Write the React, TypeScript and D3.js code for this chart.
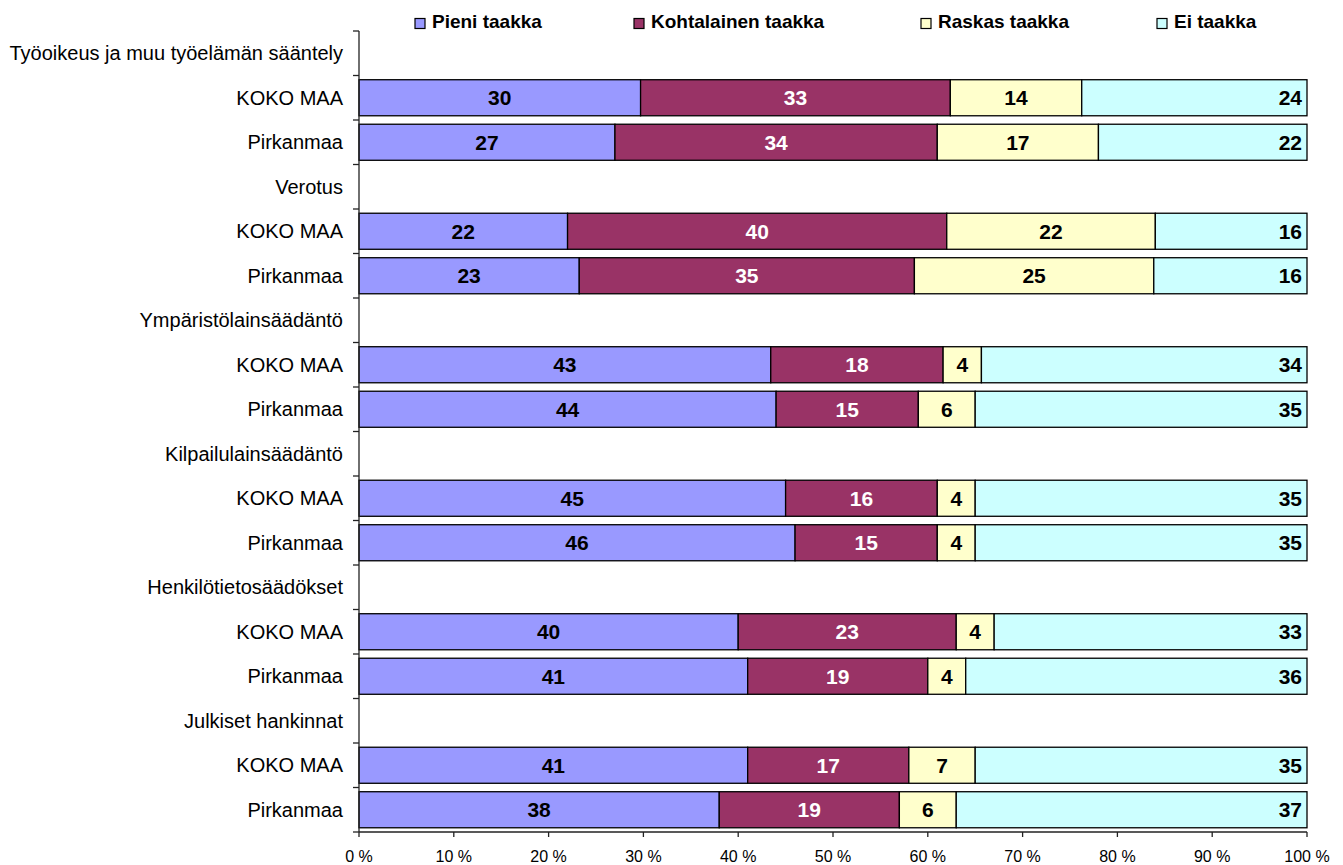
import React from "react";
import * as d3 from "d3";

const groups = [
  "Työoikeus ja muu työelämän sääntely",
  "Verotus",
  "Ympäristölainsäädäntö",
  "Kilpailulainsäädäntö",
  "Henkilötietosäädökset",
  "Julkiset hankinnat",
];
const regions = ["KOKO MAA", "Pirkanmaa"];
const seriesNames = ["Pieni taakka", "Kohtalainen taakka", "Raskas taakka", "Ei taakka"];
const seriesColors = ["#9999FF", "#993366", "#FFFFCC", "#CCFFFF"];
const labelColors = ["#000", "#fff", "#000", "#000"];

// order: group0 KOKO, group0 Pirk, group1 KOKO, ...
const pieni = [30, 27, 22, 23, 43, 44, 45, 46, 40, 41, 41, 38];
const kohtalainen = [33, 34, 40, 35, 18, 15, 16, 15, 23, 19, 17, 19];
const raskas = [14, 17, 22, 25, 4, 6, 4, 4, 4, 4, 7, 6];
const eiTaakka = [24, 22, 16, 16, 34, 35, 35, 35, 33, 36, 35, 37];
const xTicks = [0, 0.1, 0.2, 0.3, 0.4, 0.5, 0.6, 0.7, 0.8, 0.9, 1];

const W = 1343;
const H = 865;
const FONT = "'Liberation Sans', Arial, sans-serif";

export default function App() {
  const seriesVals = [pieni, kohtalainen, raskas, eiTaakka];
  const keys = seriesNames;
  const rows = pieni.map((_, i) => {
    const o: any = { idx: i };
    keys.forEach((k, s) => (o[k] = seriesVals[s][i]));
    return o;
  });
  const stacked = d3.stack<any>().keys(keys).offset(d3.stackOffsetExpand)(rows);

  const x = d3.scaleLinear().domain([0, 1]).range([359, 1307]);
  const nRows = groups.length * 3;
  const y = d3
    .scaleBand<number>()
    .domain(d3.range(nRows))
    .range([31, 832])
    .paddingInner(0.19)
    .paddingOuter(0.095);
  const step = y.step();
  const bw = y.bandwidth();

  const rowLabels: string[] = [];
  groups.forEach((g) => {
    rowLabels.push(g);
    regions.forEach((r) => rowLabels.push(r));
  });
  const dataRow = (i: number) => Math.floor(i / 2) * 3 + 1 + (i % 2);

  const legendX = [415, 634, 921, 1157];

  return (
    <svg
      width={W}
      height={H}
      style={{ position: "absolute", left: 0, top: 0, background: "#fff" }}
      fontFamily={FONT}
    >
      <rect x={0} y={0} width={W} height={H} fill="#fff" />
      {/* legend */}
      {seriesNames.map((n, i) => (
        <g key={n}>
          <rect x={legendX[i]} y={18.5} width={10} height={10} fill={seriesColors[i]} stroke="#000" strokeWidth={1.2} />
          <text x={legendX[i] + 17} y={27.5} fontSize={19} fontWeight="bold" fill="#000">
            {n}
          </text>
        </g>
      ))}
      {/* bars */}
      {stacked.map((layer, s) => (
        <g key={layer.key}>
          {layer.map((d, i) => {
            const r = dataRow(i);
            const y0 = y(r)!;
            const x0 = x(d[0]);
            const x1 = x(d[1]);
            return (
              <rect
                key={i}
                x={x0}
                y={y0}
                width={x1 - x0}
                height={bw}
                fill={seriesColors[s]}
                stroke="#000"
                strokeWidth={1.3}
              />
            );
          })}
        </g>
      ))}
      {/* value labels */}
      {stacked.map((layer, s) => (
        <g key={"l" + layer.key}>
          {layer.map((d, i) => {
            const r = dataRow(i);
            const cy = y(r)! + bw / 2;
            const last = s === stacked.length - 1;
            const tx = last ? x(d[1]) - 5 : (x(d[0]) + x(d[1])) / 2;
            return (
              <text
                key={i}
                x={tx}
                y={cy}
                dy="0.36em"
                textAnchor={last ? "end" : "middle"}
                fontSize={21}
                fontWeight="bold"
                fill={labelColors[s]}
              >
                {seriesVals[s][i]}
              </text>
            );
          })}
        </g>
      ))}
      {/* y axis */}
      <line x1={359} x2={359} y1={31} y2={832} stroke="#222" strokeWidth={1.3} />
      {d3.range(nRows + 1).map((i) => {
        const yy = 31 + i * step;
        return <line key={i} x1={353} x2={359} y1={yy} y2={yy} stroke="#222" strokeWidth={1.3} />;
      })}
      {rowLabels.map((l, i) => (
        <text
          key={i}
          x={343}
          y={y(i)! + bw / 2}
          dy="0.36em"
          textAnchor="end"
          fontSize={20}
          fill="#000"
        >
          {l}
        </text>
      ))}
      {/* x axis */}
      <line x1={359} x2={1307} y1={832} y2={832} stroke="#222" strokeWidth={1.3} />
      {xTicks.map((t) => (
        <g key={t}>
          <line x1={x(t)} x2={x(t)} y1={832} y2={837} stroke="#222" strokeWidth={1.3} />
          <text x={x(t)} y={861.5} textAnchor="middle" fontSize={16} fill="#000">
            {Math.round(t * 100) + " %"}
          </text>
        </g>
      ))}
    </svg>
  );
}
